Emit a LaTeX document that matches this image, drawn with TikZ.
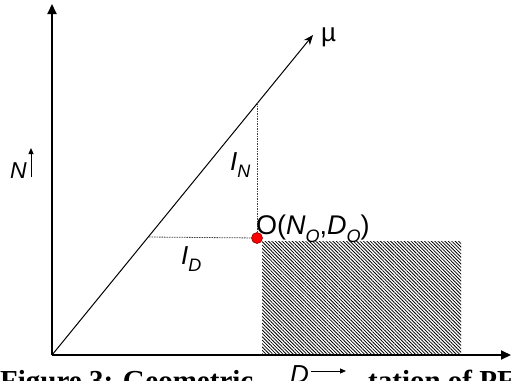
\documentclass[tikz,border=0pt]{standalone}
\usepackage{fontspec}
\setmainfont{Liberation Serif}
\setsansfont{Liberation Sans}
\usetikzlibrary{arrows.meta,patterns.meta}
\newcommand\lsub[1]{\raisebox{-0.3em}{\fontsize{18}{18}\selectfont #1}}
\begin{document}
\begin{tikzpicture}[x=1pt,y=-1pt,
  axis/.style={line width=2pt,-{Triangle[length=10pt,width=9pt]}},
  guide/.style={line width=0.8pt,dash pattern=on 1.5pt off 1pt,black!75},
  lbl/.style={font=\sffamily\fontsize{26}{26}\selectfont,inner sep=0pt},
  smallarrow/.style={line width=1pt,-{Triangle[length=6pt,width=5pt]}},
  caption/.style={font=\bfseries\fontsize{29}{29}\selectfont,inner sep=0pt}]
\useasboundingbox (0,0) rectangle (511,380);
% caption (only its top shows)
\node[caption,anchor=base west] (cap1) at (0,390) {Figure 3: Geometric};
\node[caption,anchor=base west] (cap2) at (368,390) {tation of PF};
% key points
\coordinate (orig) at (52,355);
\coordinate (ytop) at (52,4);
\coordinate (xend) at (511,355);
\coordinate (mutip) at (313,35);
\coordinate (pN) at (257,103);
\coordinate (pD) at (149,237);
\coordinate (hatchA) at (262,241);
\coordinate (hatchB) at (461,354);
% hatched region
\fill[pattern={Lines[angle=-45,distance=2.4pt,line width=0.8pt]}] (hatchA) rectangle (hatchB);
% axes
\draw[axis] (orig) -- (ytop);
\draw[axis] (orig) -- (xend);
% mu line
\draw[line width=1pt,-{Stealth[length=10pt,width=8pt]}] (orig) -- (mutip);
\node[lbl,anchor=west] (mulab) at (321,37) {µ};
% point O
\node[circle,fill=red,draw=red!55!black,line width=0.6pt,minimum size=11pt,inner sep=0pt] (ptO) at (257,238) {};
\draw[guide] (pN) -- (ptO);
\draw[guide] (pD) -- (ptO);
\node[lbl,font=\sffamily\fontsize{27}{27}\selectfont,anchor=base west] (Olab) at (256,234)
  {O(\textit{N}\lsub{\textit{O}},\textit{D}\lsub{\textit{O}})};
\node[lbl,anchor=base west] (lN) at (230,170) {\textit{I}\lsub{\textit{N}}};
\node[lbl,anchor=base west] (lD) at (181,264) {\textit{I}\lsub{\textit{D}}};
% axis labels
\node[lbl,font=\sffamily\fontsize{23}{23}\selectfont,anchor=base west] (Nlab) at (10,178) {\textit{N}};
\coordinate (Narr0) at (31,177);
\coordinate (Narr1) at (31,148);
\draw[smallarrow] (Narr0) -- (Narr1);
\node[lbl,anchor=base west] (Dlab) at (290,383) {\textit{D}};
\coordinate (Darr0) at (311,371);
\coordinate (Darr1) at (346,371);
\draw[smallarrow] (Darr0) -- (Darr1);
\end{tikzpicture}
\end{document}
